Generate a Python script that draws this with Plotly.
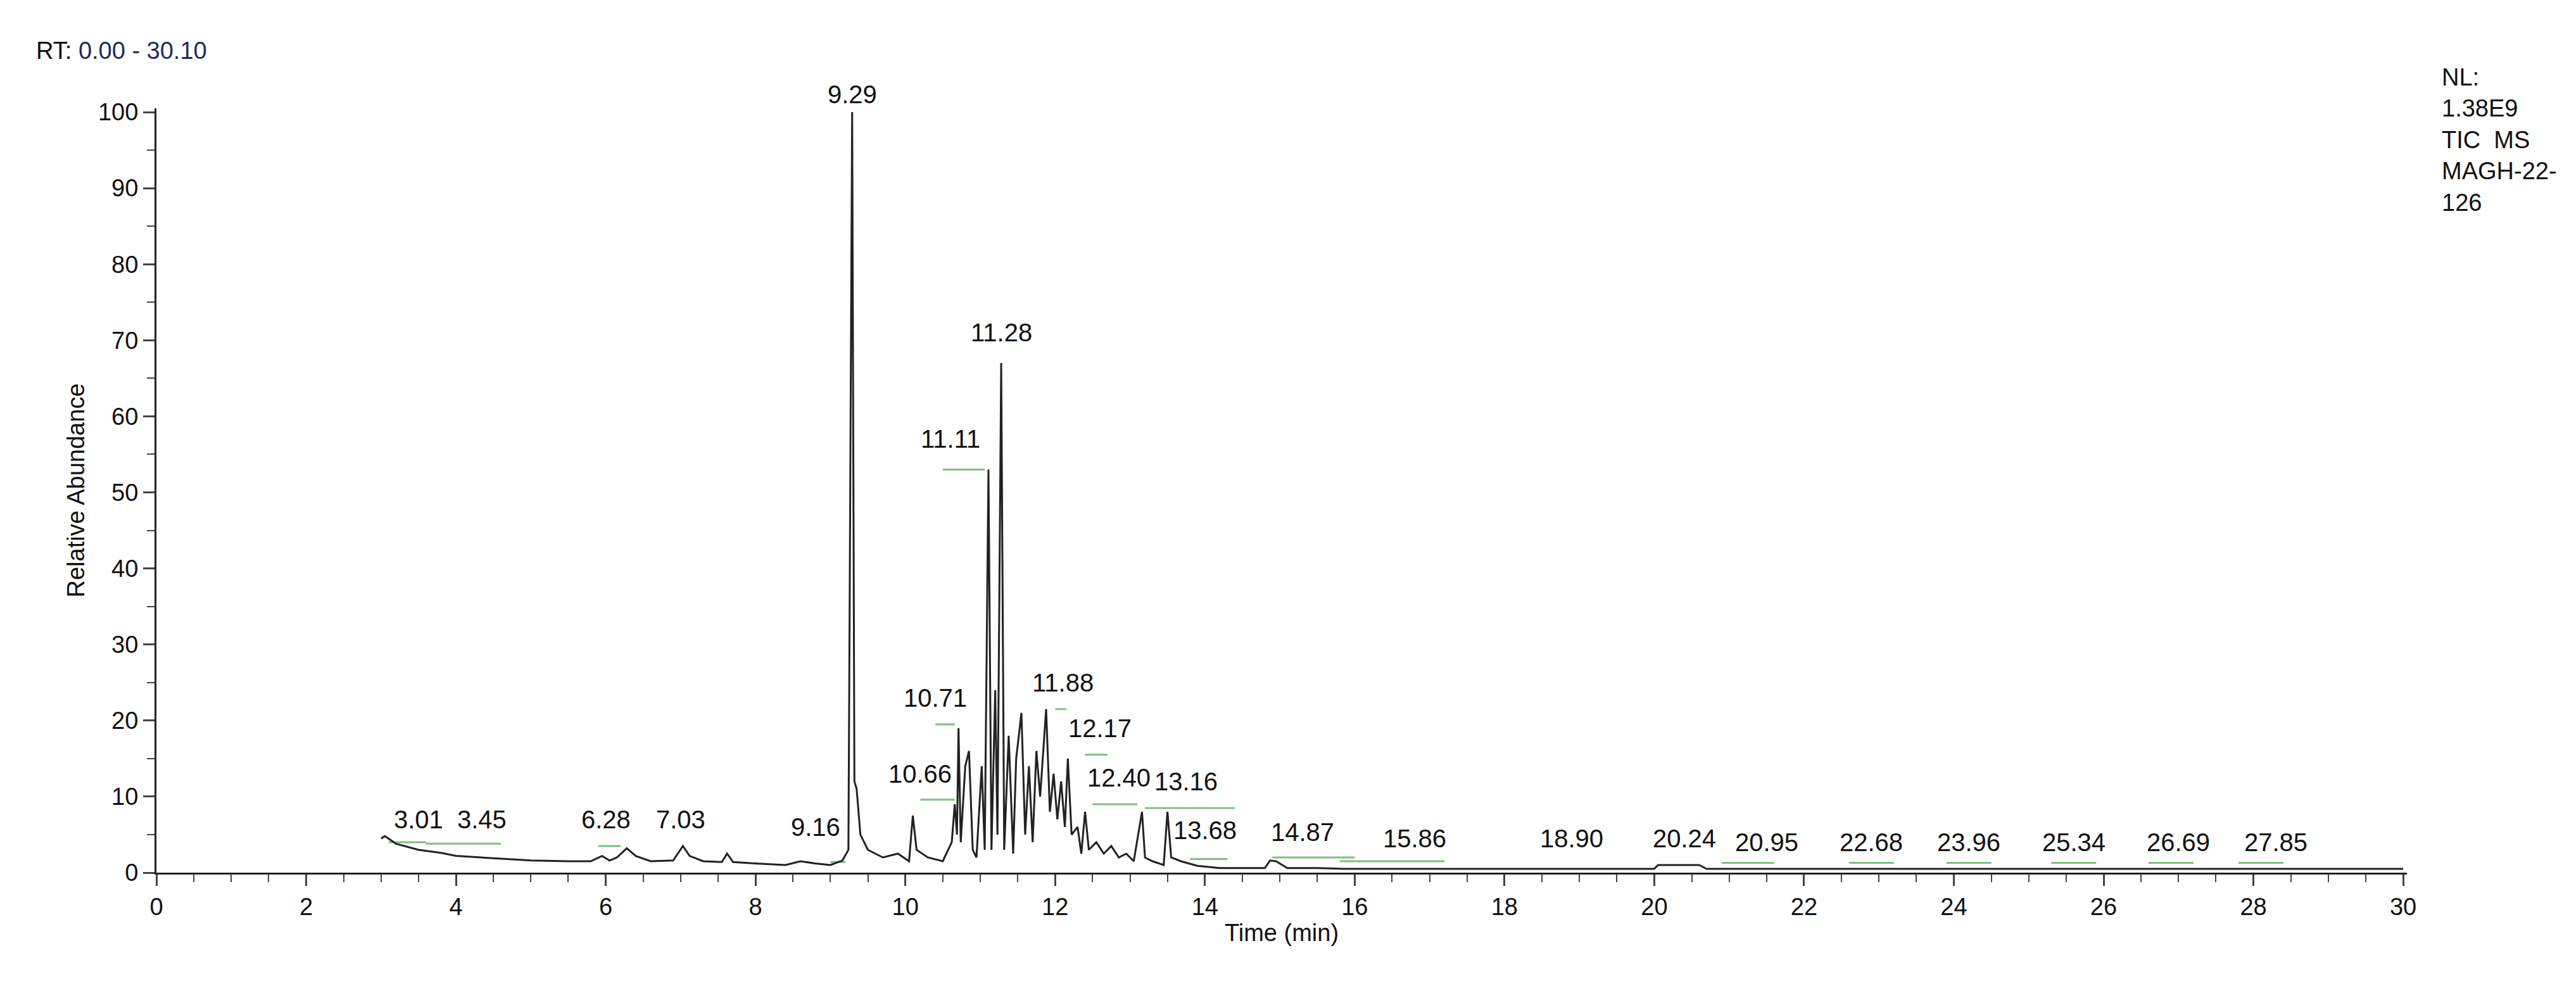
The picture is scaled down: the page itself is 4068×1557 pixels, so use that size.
import plotly.graph_objects as go

# chromatogram trace (time in min, relative abundance %)
time = [3.0, 3.05, 3.2, 3.5, 3.8, 4.0, 4.5, 5.0, 5.5, 5.8, 5.95, 6.05, 6.15, 6.28, 6.4, 6.6, 6.9, 7.03, 7.12, 7.3,
        7.55, 7.62, 7.7, 8.0, 8.4, 8.6, 8.8, 9.0, 9.16, 9.24, 9.29, 9.32, 9.35, 9.4, 9.5, 9.7, 9.9, 10.05,
        10.1, 10.15, 10.3, 10.5, 10.62, 10.66, 10.69, 10.71, 10.74, 10.8, 10.85, 10.9, 10.95, 11.02, 11.06,
        11.11, 11.15, 11.2, 11.23, 11.28, 11.32, 11.38, 11.44, 11.48, 11.55, 11.6, 11.65, 11.7, 11.75, 11.8,
        11.88, 11.93, 11.98, 12.03, 12.08, 12.13, 12.17, 12.22, 12.3, 12.35, 12.4, 12.45, 12.55, 12.65, 12.75,
        12.85, 12.95, 13.05, 13.16, 13.2, 13.3, 13.45, 13.5, 13.55, 13.68, 13.9, 14.2, 14.8, 14.87, 14.95, 15.1,
        15.5, 15.86, 16.5, 18.0, 19.5, 20.0, 20.05, 20.24, 20.6, 20.7, 22.0, 24.0, 26.0, 28.0, 30.0]
abundance = [4.5, 4.8, 3.8, 3.0, 2.6, 2.2, 1.9, 1.6, 1.5, 1.5, 2.2, 1.6, 2.0, 3.2, 2.2, 1.5, 1.6, 3.5, 2.2, 1.5,
             1.4, 2.5, 1.4, 1.2, 1.0, 1.5, 1.2, 1.0, 1.6, 3.0, 100.0, 12.0, 11.0, 5.0, 3.0, 2.0, 2.5, 1.5,
             7.5, 3.0, 2.0, 1.5, 4.0, 9.0, 5.0, 19.0, 4.0, 14.0, 16.0, 3.0, 2.0, 14.0, 3.0,
             53.0, 3.0, 24.0, 5.0, 67.0, 3.0, 18.0, 2.5, 15.0, 21.0, 5.0, 14.0, 4.0, 16.0, 10.0,
             21.5, 8.0, 13.0, 7.0, 12.0, 6.0, 15.0, 5.0, 6.0, 2.5, 8.0, 3.0, 4.0, 2.5, 3.5,
             2.0, 2.5, 1.5, 8.0, 2.0, 1.5, 1.0, 8.0, 2.0, 1.5, 0.9, 0.6, 0.6, 1.6, 1.5, 0.6,
             0.6, 0.5, 0.5, 0.5, 0.5, 0.5, 1.0, 1.0, 1.0, 0.5, 0.5, 0.5, 0.5, 0.5, 0.5]

# peak labels
label_text = ["3.01", "3.45", "6.28", "7.03", "9.16", "9.29", "10.66", "10.71", "11.11", "11.28", "11.88",
              "12.17", "12.40", "13.16", "13.68", "14.87", "15.86", "18.90", "20.24", "20.95", "22.68",
              "23.96", "25.34", "26.69", "27.85"]
label_x = [3.5, 4.35, 6.0, 7.0, 8.8, 9.29, 10.2, 10.4, 10.6, 11.28, 12.1, 12.6, 12.85, 13.75, 14.0, 15.3,
           16.8, 18.9, 20.4, 21.5, 22.9, 24.2, 25.6, 27.0, 28.3]
label_y = [5.0, 5.0, 5.0, 5.0, 4.0, 100.0, 11.0, 21.0, 55.0, 69.0, 23.0, 17.0, 10.5, 10.0, 3.6, 3.3,
           2.5, 2.5, 2.5, 2.0, 2.0, 2.0, 2.0, 2.0, 2.0]

# integration baseline markers (green)
seg_x0 = [3.1, 3.6, 5.9, 9.0, 10.2, 10.4, 10.5, 12.0, 12.4, 12.5, 13.2, 13.8, 14.9, 15.8, 20.9, 22.6, 23.9, 25.3, 26.6, 27.8]
seg_x1 = [3.6, 4.6, 6.2, 9.2, 10.66, 10.66, 11.06, 12.15, 12.7, 13.1, 14.4, 14.3, 16.0, 17.2, 21.6, 23.2, 24.5, 25.9, 27.2, 28.4]
seg_y = [4.0, 3.8, 3.5, 1.4, 9.6, 19.5, 53.0, 21.5, 15.5, 9.0, 8.5, 1.8, 2.0, 1.5, 1.3, 1.3, 1.3, 1.3, 1.3, 1.3]

FONT = "Liberation Sans, Arial, sans-serif"
fig = go.Figure()
for a, b, c in zip(seg_x0, seg_x1, seg_y):
    fig.add_trace(go.Scatter(x=[a, b], y=[c, c], mode="lines",
                             line=dict(color="#7fbf7f", width=3), showlegend=False))
fig.add_trace(go.Scatter(x=time, y=abundance, mode="lines",
                         line=dict(color="#222222", width=3), showlegend=False))

for t, x, y in zip(label_text, label_x, label_y):
    fig.add_annotation(x=x, y=y, text=t, showarrow=False, yanchor="bottom", yshift=4 if y >= 100 else 0,
                       font=dict(size=40, color="#111111", family=FONT))

fig.add_annotation(xref="paper", yref="paper", x=-0.054, y=1.075, xanchor="left", yanchor="middle",
                   text="RT: <span style='color:#1f2a5a'>0.00 - 30.10</span>", showarrow=False,
                   font=dict(size=38, color="#111111", family=FONT))
fig.add_annotation(xref="paper", yref="paper", x=1.015, y=1.06, xanchor="left", yanchor="top", align="left",
                   text="NL:<br>1.38E9<br>TIC  MS<br>MAGH-22-<br>126", showarrow=False,
                   font=dict(size=38, color="#111111", family=FONT))

fig.update_layout(
    width=4068, height=1557, plot_bgcolor="white", paper_bgcolor="white",
    margin=dict(l=239, r=275, t=163, b=187),
    font=dict(family=FONT, size=38, color="#111111"),
    xaxis=dict(range=[0, 30.05], tickmode="linear", dtick=2, ticks="outside", ticklen=18, tickwidth=3,
               showline=True, linecolor="#222222", linewidth=3, showgrid=False, zeroline=False,
               minor=dict(dtick=0.5, ticks="outside", ticklen=12, tickwidth=2),
               title=dict(text="Time (min)", font=dict(size=38), standoff=8)),
    yaxis=dict(range=[0, 100.5], tickmode="linear", dtick=10, ticks="outside", ticklen=18, tickwidth=3,
               showline=True, linecolor="#222222", linewidth=3, showgrid=False, zeroline=False,
               minor=dict(dtick=5, ticks="outside", ticklen=12, tickwidth=2),
               title=dict(text="Relative Abundance", font=dict(size=38), standoff=10)),
)
fig.write_html("out.html")
